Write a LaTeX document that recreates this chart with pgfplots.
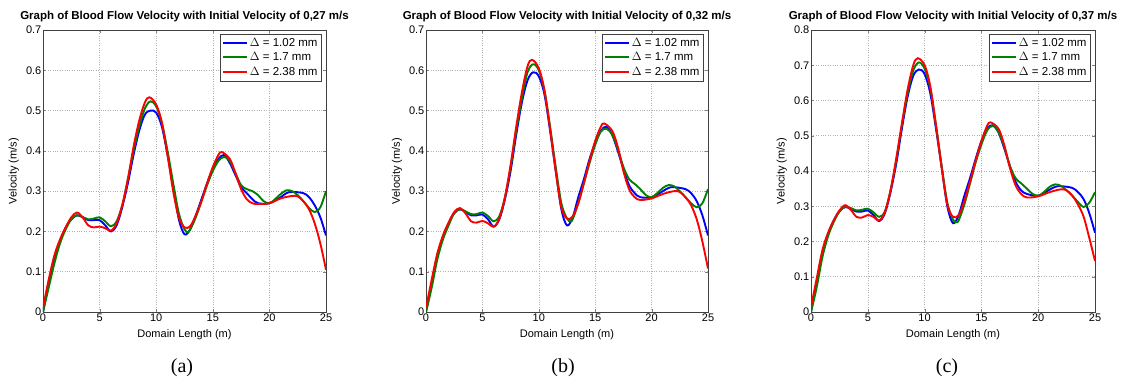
\documentclass[border=0pt]{standalone}
\usepackage{pgfplots}
\pgfplotsset{compat=1.18}
\usepackage{fontspec}
\setmainfont{Liberation Sans}
\newfontfamily\capfont{Liberation Serif}
\definecolor{mblue}{rgb}{0,0,1}
\definecolor{mgreen}{rgb}{0,0.5,0}
\definecolor{mred}{rgb}{1,0,0}
\pgfplotsset{
  panel/.style={
    scale only axis, width=283pt, height=282pt,
    xmin=0, xmax=25, ymin=0,
    xtick={0,5,10,15,20,25},
    grid=major,
    major grid style={dotted, gray!60, line width=0.5pt},
    tick align=inside, major tick length=3pt,
    axis line style={black!75, line width=0.6pt},
    /pgf/number format/assume math mode=true,
    tick label style={font=\fontsize{11}{12}\selectfont},
    yticklabel style={/pgf/number format/fixed, /pgf/number format/precision=1, inner sep=1.5pt},
    xticklabel style={inner sep=2pt},
    xlabel={Domain Length (m)}, ylabel={Velocity (m/s)},
    label style={font=\fontsize{11}{12}\selectfont},
    xlabel style={at={(axis description cs:0.5,-0.08)}, anchor=center},
    ylabel style={at={(axis description cs:-0.103,0.5)}, anchor=center},
    title style={at={(axis description cs:0.5,1.025)}, anchor=center, font=\bfseries\fontsize{11.5}{12}\selectfont},
    legend style={at={(0.985,0.987)}, anchor=north east, draw=black!75, font=\fontsize{11.5}{12.5}\selectfont, inner sep=2pt, row sep=1pt, legend cell align=left},
    legend image code/.code={\draw[mark repeat=2,mark phase=2,#1] plot coordinates {(0pt,0pt) (12pt,0pt) (24pt,0pt)};},
  },
  sb/.style={color=mblue, line width=1.9pt, smooth, tension=0.55, mark=none},
  sg/.style={color=mgreen, line width=1.9pt, smooth, tension=0.55, mark=none},
  sr/.style={color=mred, line width=1.9pt, smooth, tension=0.55, mark=none},
}
\begin{document}
\begin{tikzpicture}[x=1pt,y=1pt]
\path (0,0) rectangle (1123,385);
% ---------- (a)
\begin{axis}[panel, at={(43pt,73pt)}, anchor=south west, ymax=0.7,
  ytick={0,0.1,...,0.7},
  title={Graph of Blood Flow Velocity with Initial Velocity of 0,27 m/s}]
\addplot[sb] coordinates {(0,0.0) (0.5,0.07) (1,0.13) (1.5,0.175) (2,0.21) (2.5,0.23) (3,0.24) (3.5,0.235) (4,0.228) (4.5,0.228) (5,0.228) (5.5,0.215) (6,0.2) (6.5,0.215) (7,0.26) (7.5,0.32) (8,0.39) (8.5,0.45) (9,0.49) (9.5,0.50) (10,0.495) (10.5,0.46) (11,0.39) (11.5,0.31) (12,0.23) (12.5,0.193) (13,0.205) (13.5,0.24) (14,0.28) (14.5,0.32) (15,0.355) (15.5,0.38) (16,0.39) (16.5,0.37) (17,0.34) (17.5,0.31) (18,0.295) (18.5,0.28) (19,0.27) (20,0.27) (21,0.285) (21.5,0.295) (22,0.298) (23,0.295) (23.5,0.285) (24,0.265) (24.5,0.235) (25,0.19)};
\addlegendentry{$\Delta$ = 1.02 mm}
\addplot[sg] coordinates {(0,0.0) (0.5,0.06) (1,0.12) (1.5,0.17) (2,0.205) (2.5,0.23) (3,0.24) (3.5,0.236) (4,0.23) (4.5,0.232) (5,0.235) (5.5,0.225) (6,0.213) (6.5,0.225) (7,0.265) (7.5,0.33) (8,0.40) (8.5,0.46) (9,0.505) (9.5,0.523) (10,0.51) (10.5,0.47) (11,0.40) (11.5,0.32) (12,0.245) (12.5,0.205) (12.8,0.198) (13,0.205) (13.5,0.235) (14,0.275) (14.5,0.315) (15,0.35) (15.5,0.375) (16,0.385) (16.5,0.375) (17,0.345) (17.5,0.315) (18,0.305) (18.5,0.3) (19,0.29) (19.5,0.275) (20,0.27) (20.5,0.28) (21,0.293) (21.5,0.302) (22,0.30) (22.5,0.29) (23,0.275) (23.5,0.258) (24,0.248) (24.5,0.26) (25,0.30)};
\addlegendentry{$\Delta$ = 1.7 mm}
\addplot[sr] coordinates {(0,0.01) (0.5,0.08) (1,0.14) (1.5,0.18) (2,0.21) (2.5,0.235) (3,0.247) (3.5,0.235) (4,0.215) (4.5,0.21) (5,0.212) (5.5,0.208) (6,0.202) (6.5,0.22) (7,0.265) (7.5,0.33) (8,0.41) (8.5,0.475) (9,0.52) (9.4,0.533) (10,0.515) (10.5,0.47) (11,0.39) (11.5,0.30) (12,0.235) (12.5,0.21) (13,0.213) (13.5,0.24) (14,0.275) (14.5,0.32) (15,0.36) (15.5,0.39) (15.8,0.397) (16.5,0.38) (17,0.345) (17.5,0.305) (18,0.28) (18.5,0.27) (19,0.268) (20,0.27) (21,0.282) (22,0.288) (22.5,0.287) (23,0.275) (23.5,0.255) (24,0.22) (24.5,0.17) (25,0.105)};
\addlegendentry{$\Delta$ = 2.38 mm}
\end{axis}
% ---------- (b)
\begin{axis}[panel, at={(426pt,73pt)}, anchor=south west, width=282pt, ymax=0.7,
  ytick={0,0.1,...,0.7},
  title={Graph of Blood Flow Velocity with Initial Velocity of 0,32 m/s}]
\addplot[sb] coordinates {(0,0.0) (0.5,0.07) (1,0.14) (1.5,0.185) (2,0.22) (2.5,0.245) (3,0.255) (3.5,0.248) (4,0.24) (4.5,0.24) (5,0.242) (5.5,0.23) (6,0.212) (6.5,0.23) (7,0.28) (7.5,0.35) (8,0.44) (8.5,0.52) (9,0.575) (9.5,0.595) (10,0.585) (10.5,0.54) (11,0.45) (11.5,0.35) (12,0.255) (12.5,0.215) (13,0.235) (13.5,0.285) (14,0.33) (14.5,0.38) (15,0.42) (15.5,0.45) (16,0.46) (16.5,0.44) (17,0.40) (17.5,0.355) (18,0.315) (18.5,0.295) (19,0.285) (20,0.285) (21,0.30) (21.5,0.308) (22,0.31) (23,0.305) (23.5,0.295) (24,0.275) (24.5,0.24) (25,0.19)};
\addlegendentry{$\Delta$ = 1.02 mm}
\addplot[sg] coordinates {(0,0.0) (0.5,0.06) (1,0.13) (1.5,0.18) (2,0.215) (2.5,0.245) (3,0.255) (3.5,0.25) (4,0.243) (4.5,0.243) (5,0.247) (5.5,0.238) (6,0.225) (6.5,0.238) (7,0.285) (7.5,0.36) (8,0.45) (8.5,0.53) (9,0.595) (9.5,0.615) (10,0.6) (10.5,0.55) (11,0.46) (11.5,0.36) (12,0.27) (12.5,0.232) (12.8,0.225) (13,0.23) (13.5,0.27) (14,0.32) (14.5,0.37) (15,0.415) (15.5,0.448) (16,0.455) (16.5,0.44) (17,0.405) (17.5,0.36) (18,0.33) (18.5,0.318) (19,0.305) (19.5,0.29) (20,0.285) (20.5,0.295) (21,0.308) (21.5,0.315) (22,0.312) (22.5,0.30) (23,0.285) (23.5,0.27) (24,0.26) (24.5,0.27) (25,0.305)};
\addlegendentry{$\Delta$ = 1.7 mm}
\addplot[sr] coordinates {(0,0.01) (0.5,0.08) (1,0.145) (1.5,0.19) (2,0.222) (2.5,0.248) (3,0.258) (3.5,0.245) (4,0.225) (4.5,0.222) (5,0.226) (5.5,0.22) (6,0.212) (6.5,0.232) (7,0.285) (7.5,0.365) (8,0.46) (8.5,0.545) (9,0.61) (9.4,0.626) (10,0.605) (10.5,0.55) (11,0.455) (11.5,0.35) (12,0.26) (12.5,0.232) (13,0.237) (13.5,0.27) (14,0.32) (14.5,0.375) (15,0.425) (15.5,0.46) (15.8,0.468) (16.5,0.45) (17,0.41) (17.5,0.35) (18,0.305) (18.5,0.285) (19,0.278) (20,0.282) (21,0.293) (22,0.30) (22.5,0.298) (23,0.285) (23.5,0.265) (24,0.23) (24.5,0.175) (25,0.108)};
\addlegendentry{$\Delta$ = 2.38 mm}
\end{axis}
% ---------- (c)
\begin{axis}[panel, at={(811pt,73pt)}, anchor=south west, width=284pt, ymax=0.8,
  ytick={0,0.1,...,0.8},
  title={Graph of Blood Flow Velocity with Initial Velocity of 0,37 m/s}]
\addplot[sb] coordinates {(0,0.0) (0.5,0.085) (1,0.165) (1.5,0.22) (2,0.26) (2.5,0.285) (3,0.298) (3.5,0.292) (4,0.285) (4.5,0.285) (5,0.288) (5.5,0.275) (6,0.258) (6.5,0.28) (7,0.34) (7.5,0.42) (8,0.52) (8.5,0.61) (9,0.67) (9.5,0.688) (10,0.675) (10.5,0.62) (11,0.52) (11.5,0.41) (12,0.30) (12.5,0.252) (13,0.275) (13.5,0.33) (14,0.38) (14.5,0.435) (15,0.485) (15.5,0.52) (16,0.53) (16.5,0.51) (17,0.465) (17.5,0.415) (18,0.37) (18.5,0.345) (19,0.335) (20,0.33) (21,0.347) (21.5,0.355) (22,0.357) (23,0.352) (23.5,0.34) (24,0.32) (24.5,0.28) (25,0.225)};
\addlegendentry{$\Delta$ = 1.02 mm}
\addplot[sg] coordinates {(0,0.0) (0.5,0.07) (1,0.155) (1.5,0.215) (2,0.255) (2.5,0.285) (3,0.298) (3.5,0.295) (4,0.288) (4.5,0.29) (5,0.293) (5.5,0.283) (6,0.27) (6.5,0.285) (7,0.345) (7.5,0.43) (8,0.53) (8.5,0.62) (9,0.685) (9.5,0.708) (10,0.69) (10.5,0.635) (11,0.53) (11.5,0.415) (12,0.31) (12.5,0.262) (12.8,0.255) (13,0.26) (13.5,0.305) (14,0.365) (14.5,0.425) (15,0.475) (15.5,0.515) (16,0.528) (16.5,0.51) (17,0.47) (17.5,0.415) (18,0.38) (18.5,0.365) (19,0.35) (19.5,0.335) (20,0.33) (20.5,0.34) (21,0.355) (21.5,0.362) (22,0.358) (22.5,0.345) (23,0.33) (23.5,0.312) (24,0.298) (24.5,0.31) (25,0.34)};
\addlegendentry{$\Delta$ = 1.7 mm}
\addplot[sr] coordinates {(0,0.015) (0.5,0.095) (1,0.175) (1.5,0.225) (2,0.26) (2.5,0.288) (3,0.303) (3.5,0.29) (4,0.27) (4.5,0.268) (5,0.275) (5.5,0.27) (6,0.26) (6.5,0.283) (7,0.345) (7.5,0.435) (8,0.535) (8.5,0.63) (9,0.7) (9.4,0.72) (10,0.7) (10.5,0.64) (11,0.53) (11.5,0.41) (12,0.305) (12.5,0.27) (13,0.275) (13.5,0.315) (14,0.37) (14.5,0.43) (15,0.485) (15.5,0.528) (15.8,0.538) (16.5,0.52) (17,0.475) (17.5,0.41) (18,0.36) (18.5,0.335) (19,0.325) (20,0.328) (21,0.34) (22,0.348) (22.5,0.345) (23,0.33) (23.5,0.305) (24,0.27) (24.5,0.21) (25,0.145)};
\addlegendentry{$\Delta$ = 2.38 mm}
\end{axis}
\node[font=\capfont\fontsize{20}{21}\selectfont] at (182,17) {(a)};
\node[font=\capfont\fontsize{20}{21}\selectfont] at (563,17) {(b)};
\node[font=\capfont\fontsize{20}{21}\selectfont] at (947,17) {(c)};
\end{tikzpicture}
\end{document}
